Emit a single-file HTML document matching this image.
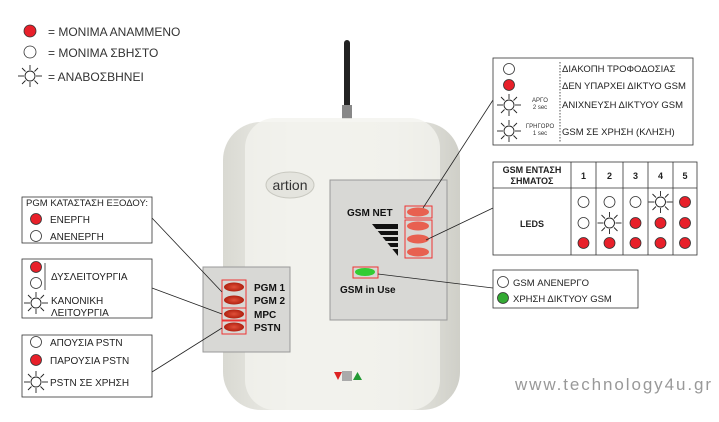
<!DOCTYPE html>
<html><head><meta charset="utf-8"><style>
html,body{margin:0;padding:0;background:#fff;}
svg{display:block;font-family:"Liberation Sans","DejaVu Sans",sans-serif;}
</style></head><body>
<svg width="719" height="422" viewBox="0 0 719 422" xmlns="http://www.w3.org/2000/svg">
<defs>
<g id="sun" stroke="#222" stroke-width="0.9" fill="#fff">
<circle r="5"/>
<line x1="-12" y1="0" x2="-6" y2="0"/><line x1="6" y1="0" x2="12" y2="0"/>
<line x1="0" y1="-11" x2="0" y2="-6"/><line x1="0" y1="6" x2="0" y2="11"/>
<line x1="-8" y1="-8" x2="-4.5" y2="-4.5"/><line x1="8" y1="-8" x2="4.5" y2="-4.5"/>
<line x1="-8" y1="8" x2="-4.5" y2="4.5"/><line x1="8" y1="8" x2="4.5" y2="4.5"/>
</g>
<linearGradient id="body" x1="0" x2="1"><stop offset="0" stop-color="#d9d9d2"/><stop offset="0.3" stop-color="#efefea"/><stop offset="0.7" stop-color="#ecece6"/><stop offset="1" stop-color="#cfcfc8"/></linearGradient>
<radialGradient id="led"><stop offset="0" stop-color="#e0503a"/><stop offset="1" stop-color="#b02010"/></radialGradient>
</defs>

<circle cx="30" cy="31" r="6" fill="#e8202a" stroke="#333" stroke-width="0.8"/>
<text x="48" y="36" font-size="12" fill="#333">= ΜΟΝΙΜΑ ΑΝΑΜΜΕΝΟ</text>
<circle cx="30" cy="52" r="6" fill="#fff" stroke="#333" stroke-width="0.8"/>
<text x="48" y="57" font-size="12" fill="#333">= ΜΟΝΙΜΑ ΣΒΗΣΤΟ</text>
<use href="#sun" x="30" y="76"/>
<text x="48" y="81" font-size="12" fill="#333">= ΑΝΑΒΟΣΒΗΝΕΙ</text>

<rect x="344" y="40" width="6" height="70" rx="3" fill="#222"/>
<rect x="342" y="105" width="10" height="14" fill="#888"/>
<rect x="223" y="122" width="237" height="288" rx="38" fill="url(#body)"/>
<rect x="245" y="118" width="195" height="292" rx="30" fill="#f2f2ee" opacity="0.8"/>
<ellipse cx="290" cy="185" rx="24" ry="13" fill="#e4e4de" stroke="#c8c8c0"/>
<text x="290" y="190" font-size="14" text-anchor="middle" fill="#333">artion</text>
<polygon points="334,372 342,372 338,380" fill="#d22"/>
<rect x="342" y="371" width="10" height="10" fill="#aaa"/>
<polygon points="353,380 362,380 357.5,372" fill="#293"/>

<rect x="330" y="180" width="117" height="140" fill="#d8d8d5" stroke="#999"/>
<text x="347" y="216" font-size="10" font-weight="bold" fill="#111">GSM NET</text>
<polygon points="372,224 398,224 398,256" fill="#111"/>
<g stroke="#d8d8d5" stroke-width="2"><line x1="370" y1="230" x2="400" y2="230"/><line x1="370" y1="236" x2="400" y2="236"/><line x1="370" y1="242" x2="400" y2="242"/><line x1="370" y1="248" x2="400" y2="248"/></g>
<rect x="405" y="206" width="27" height="12" fill="none" stroke="#e33"/>
<ellipse cx="418" cy="212" rx="11" ry="4.5" fill="#e86050"/>
<rect x="405" y="220" width="27" height="38" fill="none" stroke="#e33"/>
<ellipse cx="418" cy="226" rx="11" ry="4.5" fill="#e86050"/>
<ellipse cx="418" cy="239" rx="11" ry="4.5" fill="#e86050"/>
<ellipse cx="418" cy="252" rx="11" ry="4.5" fill="#e86050"/>
<rect x="353" y="267" width="25" height="11" fill="none" stroke="#e33"/>
<ellipse cx="365" cy="272" rx="10" ry="4" fill="#3c3"/>
<text x="340" y="293" font-size="10" font-weight="bold" fill="#111">GSM in Use</text>

<rect x="203" y="267" width="87" height="85" fill="#d8d8d5" stroke="#999"/>
<rect x="222" y="280" width="24" height="28" fill="none" stroke="#e33"/>
<rect x="222" y="308" width="24" height="12" fill="none" stroke="#e33"/>
<rect x="222" y="321" width="24" height="13" fill="none" stroke="#e33"/>
<ellipse cx="234" cy="287" rx="10" ry="4.5" fill="url(#led)"/>
<ellipse cx="234" cy="300" rx="10" ry="4.5" fill="url(#led)"/>
<ellipse cx="234" cy="314" rx="10" ry="4.5" fill="url(#led)"/>
<ellipse cx="234" cy="327" rx="10" ry="4.5" fill="url(#led)"/>
<g font-size="10" font-weight="bold" fill="#111">
<text x="254" y="291">PGM 1</text><text x="254" y="304">PGM 2</text><text x="254" y="318">MPC</text><text x="254" y="331">PSTN</text></g>

<g stroke="#222" stroke-width="0.8">
<line x1="152" y1="218" x2="222" y2="292"/>
<line x1="152" y1="288" x2="222" y2="314"/>
<line x1="152" y1="372" x2="222" y2="328"/>
<line x1="493" y1="100" x2="423" y2="208"/>
<line x1="493" y1="208" x2="426" y2="240"/>
<line x1="493" y1="288" x2="378" y2="274"/>
</g>

<g fill="#fff" stroke="#333" stroke-width="0.8">
<rect x="22" y="197" width="130" height="46"/>
<rect x="22" y="259" width="130" height="59"/>
<rect x="22" y="335" width="130" height="62"/>
</g>
<g font-size="10" fill="#222">
<text x="26" y="206" font-size="9.5" textLength="122" lengthAdjust="spacingAndGlyphs">PGM ΚΑΤΑΣΤΑΣΗ ΕΞΟΔΟΥ:</text>
<circle cx="36" cy="219" r="5.5" fill="#e8202a" stroke="#333" stroke-width="0.8"/>
<text x="50" y="223">ΕΝΕΡΓΗ</text>
<circle cx="36" cy="236" r="5.5" fill="#fff" stroke="#333" stroke-width="0.8"/>
<text x="50" y="240">ΑΝΕΝΕΡΓΗ</text>
<circle cx="36" cy="267" r="5.5" fill="#e8202a" stroke="#333" stroke-width="0.8"/>
<circle cx="36" cy="283" r="5.5" fill="#fff" stroke="#333" stroke-width="0.8"/>
<line x1="45" y1="263" x2="45" y2="290" stroke="#555" stroke-width="1"/>
<text x="51" y="280">ΔΥΣΛΕΙΤΟΥΡΓΙΑ</text>
<use href="#sun" x="36" y="303"/>
<text x="51" y="304">ΚΑΝΟΝΙΚΗ</text>
<text x="51" y="316">ΛΕΙΤΟΥΡΓΙΑ</text>
<circle cx="36" cy="342" r="5.5" fill="#fff" stroke="#333" stroke-width="0.8"/>
<text x="50" y="346">ΑΠΟΥΣΙΑ PSTN</text>
<circle cx="36" cy="360" r="5.5" fill="#e8202a" stroke="#333" stroke-width="0.8"/>
<text x="50" y="364">ΠΑΡΟΥΣΙΑ PSTN</text>
<use href="#sun" x="36" y="382"/>
<text x="50" y="386">PSTN ΣΕ ΧΡΗΣΗ</text>
</g>

<rect x="493" y="58" width="200" height="87" fill="#fff" stroke="#333" stroke-width="0.8"/>
<line x1="560" y1="62" x2="560" y2="143" stroke="#555" stroke-dasharray="1.5,1.5"/>
<g font-size="9.5" fill="#222">
<circle cx="509" cy="69" r="5.5" fill="#fff" stroke="#333" stroke-width="0.8"/>
<text x="562" y="72">ΔΙΑΚΟΠΗ ΤΡΟΦΟΔΟΣΙΑΣ</text>
<circle cx="509" cy="85" r="5.5" fill="#e8202a" stroke="#333" stroke-width="0.8"/>
<text x="562" y="89">ΔΕΝ ΥΠΑΡΧΕΙ ΔΙΚΤΥΟ GSM</text>
<use href="#sun" x="509" y="105"/>
<text x="562" y="108">ΑΝΙΧΝΕΥΣΗ ΔΙΚΤΥΟΥ GSM</text>
<use href="#sun" x="509" y="131"/>
<text x="562" y="135">GSM ΣΕ ΧΡΗΣΗ (ΚΛΗΣΗ)</text>
</g>
<g font-size="6" fill="#333" text-anchor="middle">
<text x="540" y="102">ΑΡΓΟ</text><text x="540" y="109">2 sec</text>
<text x="540" y="128">ΓΡΗΓΟΡΟ</text><text x="540" y="135">1 sec</text>
</g>

<rect x="493" y="162" width="204" height="93" fill="#fff" stroke="#333" stroke-width="0.8"/>
<g stroke="#333" stroke-width="0.8">
<line x1="493" y1="188" x2="697" y2="188"/>
<line x1="571" y1="162" x2="571" y2="255"/>
<line x1="596" y1="162" x2="596" y2="255"/>
<line x1="623" y1="162" x2="623" y2="255"/>
<line x1="648" y1="162" x2="648" y2="255"/>
<line x1="673" y1="162" x2="673" y2="255"/>
</g>
<g font-size="9" font-weight="bold" fill="#222" text-anchor="middle">
<text x="532" y="173">GSM ΕΝΤΑΣΗ</text><text x="532" y="184">ΣΗΜΑΤΟΣ</text>
<text x="583.5" y="179">1</text><text x="609.5" y="179">2</text><text x="635.5" y="179">3</text><text x="660.5" y="179">4</text><text x="685" y="179">5</text>
<text x="532" y="227">LEDS</text>
</g>
<g stroke="#333" stroke-width="0.8">
<circle cx="583.5" cy="202" r="5.5" fill="#fff"/><circle cx="583.5" cy="223" r="5.5" fill="#fff"/><circle cx="583.5" cy="243" r="5.5" fill="#e8202a"/>
<circle cx="609.5" cy="202" r="5.5" fill="#fff"/><circle cx="609.5" cy="243" r="5.5" fill="#e8202a"/>
<circle cx="635.5" cy="202" r="5.5" fill="#fff"/><circle cx="635.5" cy="223" r="5.5" fill="#e8202a"/><circle cx="635.5" cy="243" r="5.5" fill="#e8202a"/>
<circle cx="660.5" cy="223" r="5.5" fill="#e8202a"/><circle cx="660.5" cy="243" r="5.5" fill="#e8202a"/>
<circle cx="685" cy="202" r="5.5" fill="#e8202a"/><circle cx="685" cy="223" r="5.5" fill="#e8202a"/><circle cx="685" cy="243" r="5.5" fill="#e8202a"/>
</g>
<use href="#sun" x="609.5" y="223"/>
<use href="#sun" x="660.5" y="202"/>

<rect x="493" y="270" width="145" height="38" fill="#fff" stroke="#333" stroke-width="0.8"/>
<circle cx="503" cy="282" r="5.5" fill="#fff" stroke="#333" stroke-width="0.8"/>
<text x="513" y="286" font-size="9.5" fill="#222">GSM ΑΝΕΝΕΡΓΟ</text>
<circle cx="503" cy="298" r="5.5" fill="#3a3" stroke="#333" stroke-width="0.8"/>
<text x="513" y="302" font-size="9.5" fill="#222">ΧΡΗΣΗ ΔΙΚΤΥΟΥ GSM</text>

<text x="515" y="390" font-size="17" fill="#999" textLength="196" lengthAdjust="spacing">www.technology4u.gr</text>
</svg>
</body></html>
